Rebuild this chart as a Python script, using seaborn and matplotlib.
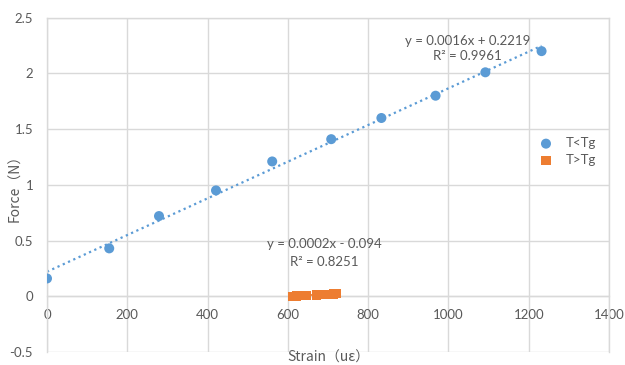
import numpy as np
import pandas as pd
import seaborn as sns
import matplotlib.pyplot as plt

# ------------------------------------------------
# data
# ------------------------------------------------
strain_low = [0, 155, 279, 421, 561, 708, 833, 968, 1092, 1232]
force_low = [0.16, 0.43, 0.72, 0.95, 1.21, 1.41, 1.60, 1.80, 2.01, 2.20]

strain_high = [612, 622, 633, 645, 672, 683, 694, 705, 714, 722]
force_high = [0.0, 0.003, 0.005, 0.007, 0.011, 0.013, 0.016, 0.018, 0.02, 0.022]

series_names = ["T<Tg", "T>Tg"]
eq_texts = ["y = 0.0016x + 0.2219\nR² = 0.9961", "y = 0.0002x - 0.094\nR² = 0.8251"]

x_ticks = list(range(0, 1401, 200))
y_ticks = [-0.5, 0, 0.5, 1, 1.5, 2, 2.5]

blue = "#5B9BD5"
orange = "#ED7D31"
grid_c = "#D9D9D9"
text_c = "#595959"

low = pd.DataFrame({"strain": strain_low, "force": force_low})
high = pd.DataFrame({"strain": strain_high, "force": force_high})

# ------------------------------------------------
# plot
# ------------------------------------------------
sns.set_style("white")
plt.rcParams["font.family"] = ["Lato", "DejaVu Sans"]

fig = plt.figure(figsize=(6.25, 3.65), dpi=100)
ax = fig.add_axes([0.0752, 0.0356, 0.8992, 0.9159])

# trendlines (linear fits)
sns.regplot(data=low, x="strain", y="force", ax=ax, ci=None, scatter=False,
            truncate=True, line_kws=dict(color=blue, ls=(0, (1, 1.6)), lw=1.6))
sns.regplot(data=high, x="strain", y="force", ax=ax, ci=None, scatter=False,
            truncate=True, line_kws=dict(color=orange, ls=(0, (1, 1.6)), lw=1.6))

sns.scatterplot(data=low, x="strain", y="force", ax=ax, color=blue, marker="o",
                s=52, edgecolor="none", label=series_names[0], zorder=3)
sns.scatterplot(data=high, x="strain", y="force", ax=ax, color=orange, marker="s",
                s=44, edgecolor="none", label=series_names[1], zorder=3)

ax.set_xlim(0, 1400)
ax.set_ylim(-0.5, 2.5)
ax.set_xticks(x_ticks)
ax.set_yticks(y_ticks)
ax.set_yticklabels(["-0.5", "0", "0.5", "1", "1.5", "2", "2.5"])
ax.grid(True, color=grid_c, lw=1)
ax.set_axisbelow(True)

for s in ax.spines.values():
    s.set_color(grid_c)
    s.set_linewidth(1)
ax.spines["bottom"].set_position(("data", 0))
ax.tick_params(axis="x", length=0, pad=9, labelsize=9.5, labelcolor=text_c)
ax.tick_params(axis="y", length=0, pad=10, labelsize=9.5, labelcolor=text_c)

ax.set_xlabel("Strain\uff08u\u03b5\uff09", fontsize=10, color=text_c,
              family=["Noto Sans CJK SC", "Lato"], va="center")
ax.xaxis.set_label_coords(0.5, -0.016)
ax.set_ylabel("Force\uff08N\uff09", fontsize=10, color=text_c,
              family=["Noto Sans CJK SC", "Lato"], va="center")
ax.yaxis.set_label_coords(-0.057, 0.5)

ax.text(1047, 2.225, eq_texts[0], ha="center", va="center", fontsize=9.5,
        color=text_c, linespacing=1.3)
ax.text(690, 0.39, eq_texts[1], ha="center", va="center", fontsize=9.5,
        color=text_c, linespacing=1.55)

ax.legend(loc="center left", bbox_to_anchor=(0.855, 0.60), frameon=False,
          fontsize=9.5, labelcolor=text_c, handletextpad=1.0, labelspacing=0.35,
          handlelength=1.0)

plt.savefig("out.png", dpi=100)
plt.close()
